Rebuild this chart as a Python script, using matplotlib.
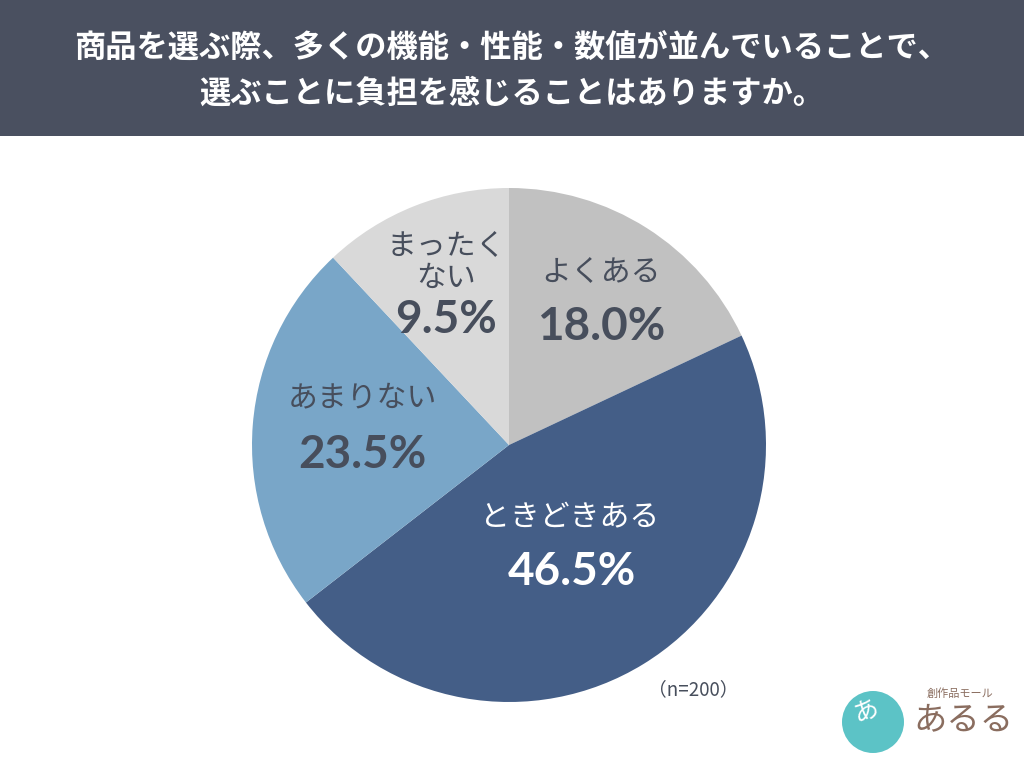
import matplotlib.pyplot as plt
from matplotlib.patches import Rectangle, Ellipse

plt.rcParams['font.family'] = ['Noto Sans CJK JP', 'DejaVu Sans']

# data
labels = ["よくある", "ときどきある", "あまりない", "まったく\nない"]
values = [18.0, 46.5, 23.5, 9.5]
colors = ["#c1c1c1", "#445e87", "#79a6c8", "#d9d9d9"]
text_colors = ["#474e5c", "white", "#474e5c", "#474e5c"]
# the drawn pie leaves the unreported remainder in the last (light grey) slice
remainder = 2.5

title = "商品を選ぶ際、多くの機能・性能・数値が並んでいることで、\n選ぶことに負担を感じることはありますか。"

W, H = 1024, 768
fig = plt.figure(figsize=(W / 100, H / 100), dpi=100)
fig.patch.set_facecolor("white")

# header band
fig.patches.append(Rectangle((0, 1 - 136 / H), 1, 136 / H, transform=fig.transFigure,
                             facecolor="#4a5060", edgecolor="none"))
fig.text(0.5, 1 - 71 / H, title, ha="center", va="center", color="white",
         fontsize=22.5, fontweight="bold", linespacing=1.5)

# pie
drawn = values[:-1] + [values[-1] + remainder]
cx, cy, r = 509, 445, 257
ax = fig.add_axes([(cx - r) / W, (H - cy - r) / H, 2 * r / W, 2 * r / H])
ax.pie(drawn, colors=colors, startangle=90,
       counterclock=False, radius=1, wedgeprops=dict(linewidth=0))
ax.set_xlim(-1, 1)
ax.set_ylim(-1, 1)
ax.axis("off")

# label positions (pixel) for name and percent
name_pos = [(601, 272), (570, 517), (362, 398), (446, 262)]
pct_pos = [(601, 327), (572, 572), (362, 455), (446, 320)]

for lab, v, tc, (nx, ny), (px, py) in zip(labels, values, text_colors, name_pos, pct_pos):
    fig.text(nx / W, 1 - ny / H, lab, ha="center", va="center", color=tc,
             fontsize=21.5, linespacing=1.1)
    fig.text(px / W, 1 - py / H, f"{v:.1f}%", ha="center", va="center", color=tc,
             fontsize=33, fontweight="bold", family=["Lato", "DejaVu Sans"])

fig.text(693 / W, 1 - 690 / H, "（n=200）", ha="center", va="center",
         color="#474e5c", fontsize=13.5)

# logo (rough)
fig.patches.append(Ellipse((873 / W, 1 - 722 / H), 62 / W, 62 / H, transform=fig.transFigure,
                           facecolor="#5cc3c6", edgecolor="none"))
fig.text(866 / W, 1 - 712 / H, "あ", ha="center", va="center", color="white",
         fontsize=18, rotation=20)
fig.text(960 / W, 1 - 694 / H, "創作品モール", ha="center", va="center",
         color="#8a6d5f", fontsize=8)
fig.text(963 / W, 1 - 720 / H, "あるる", ha="center", va="center",
         color="#8a6d5f", fontsize=24)

fig.savefig("out.png", dpi=100)
